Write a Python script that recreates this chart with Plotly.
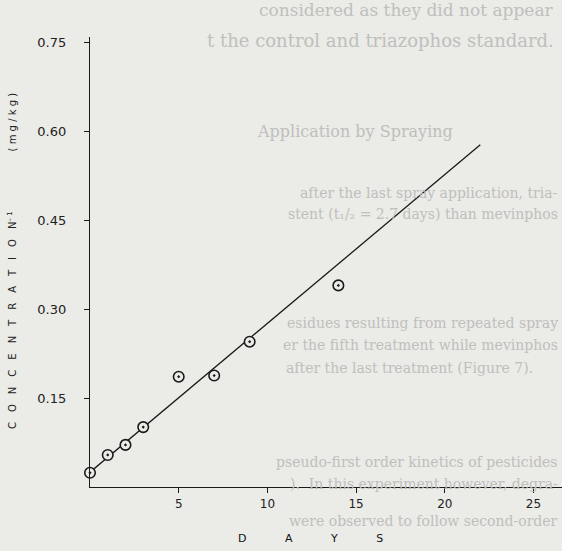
import plotly.graph_objects as go

# ---- data ----
days = [0, 1, 2, 3, 5, 7, 9, 14]
inv_conc = [0.024, 0.054, 0.071, 0.101, 0.186, 0.188, 0.245, 0.340]
fit_days = [0, 22]
fit_values = [0.025, 0.577]
x_ticks = [5, 10, 15, 20, 25]
y_ticks = [0.15, 0.30, 0.45, 0.60, 0.75]
y_tick_labels = ["0.15", "0.30", "0.45", "0.60", "0.75"]

# faint show-through text from the scanned page
bleed_lines = [
    "considered as they did not appear",
    "t the control and triazophos standard.",
    "Application by Spraying",
    "after the last spray application, tria-",
    "stent (t\u2081/\u2082 = 2.7 days) than mevinphos",
    "esidues resulting from repeated spray",
    "er the fifth treatment while mevinphos",
    "after the last treatment (Figure 7).",
    "pseudo-first order kinetics of pesticides",
    ").  In this experiment however, degra-",
    "were observed to follow second-order",
]
# (x pixel, y pixel, anchor, font size)
bleed_pos = [(556, 10, "right", 17), (556, 40, "right", 18), (255, 131, "left", 16),
             (560, 193, "right", 14), (560, 214, "right", 14),
             (560, 323, "right", 14), (560, 345, "right", 14), (284, 368, "left", 14),
             (560, 462, "right", 14), (560, 484, "right", 14),
             (560, 521, "right", 14)]

W, H = 562, 551
ML, MR, MT, MB = 90, 0, 37, 64
PW, PH = W - ML - MR, H - MT - MB
BG = "#ebebe8"


def px(xp):
    return (xp - ML) / PW


def py(yp):
    return (H - MB - yp) / PH


fig = go.Figure()
fig.add_trace(go.Scatter(
    x=fit_days, y=fit_values, mode="lines",
    line=dict(color="#1a1a1a", width=1.3), hoverinfo="skip", showlegend=False,
))
fig.add_trace(go.Scatter(
    x=days, y=inv_conc, mode="markers", cliponaxis=False,
    marker=dict(symbol="circle-dot", size=10.5, color=BG,
                line=dict(color="#1a1a1a", width=1.6)),
    showlegend=False,
))

annotations = []
for txt, (bx, by, anc, fs) in zip(bleed_lines, bleed_pos):
    annotations.append(dict(
        text=txt, xref="paper", yref="paper", x=px(bx), y=py(by),
        xanchor=anc, yanchor="middle", showarrow=False,
        font=dict(family="DejaVu Serif", size=fs, color="#bfbfbc"),
    ))

sp = "\u2003"
ytitle = sp.join("CONCENTRATION") + "<sup>\u2013 1</sup>" + sp * 6 + "( m g / k g )"
annotations.append(dict(
    text=ytitle, xref="paper", yref="paper", x=px(12), y=py(261),
    xanchor="center", yanchor="middle", textangle=-90, showarrow=False,
    font=dict(family="DejaVu Sans", size=10, color="#222222"),
))
xtitle = ("\u2003\u2003\u2003\u2002").join("DAYS")
annotations.append(dict(
    text=xtitle, xref="paper", yref="paper", x=px(310), y=py(538),
    xanchor="center", yanchor="middle", showarrow=False,
    font=dict(family="DejaVu Sans", size=11, color="#111111"),
))

fig.update_layout(
    width=W, height=H,
    margin=dict(l=ML, r=MR, t=MT, b=MB),
    paper_bgcolor=BG, plot_bgcolor=BG,
    annotations=annotations,
    xaxis=dict(
        range=[0, PW / 17.74], showgrid=False, zeroline=False,
        showline=True, linecolor="#1a1a1a", linewidth=1.3,
        ticks="outside", ticklen=5, tickcolor="#1a1a1a", tickwidth=1,
        tickvals=x_ticks, ticktext=[str(v) for v in x_ticks],
        tickfont=dict(family="DejaVu Sans", size=12, color="#222222"),
    ),
    yaxis=dict(
        range=[0, PH / 593.0], showgrid=False, zeroline=False,
        showline=True, linecolor="#1a1a1a", linewidth=1.3,
        ticks="outside", ticklen=5, tickcolor="#1a1a1a", tickwidth=1,
        tickvals=y_ticks, ticktext=y_tick_labels, ticklabelstandoff=15,
        tickfont=dict(family="DejaVu Sans", size=13, color="#222222"),
    ),
)

fig.write_html(
    "out.html",
    config={"displayModeBar": False},
    post_script="document.body.style.margin='0';document.body.style.background='%s';" % BG,
)
